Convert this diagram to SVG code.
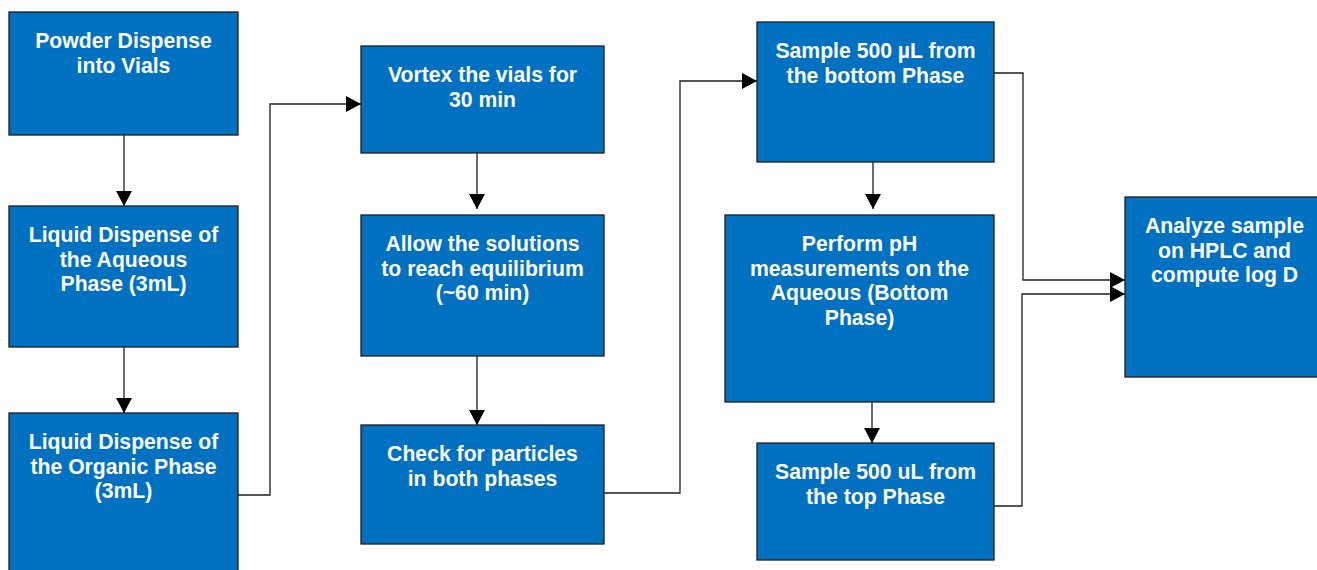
<svg xmlns="http://www.w3.org/2000/svg" width="1317" height="570" viewBox="0 0 1317 570">
<style>
.box{fill:#0070C0;stroke:#1e1e1e;stroke-width:1.3}
.t{font-family:"Liberation Sans",Arial,sans-serif;font-weight:bold;font-size:21.2px;fill:#ffffff;text-anchor:middle}
.c{fill:none;stroke:#1e1e1e;stroke-width:1.3}
</style>
<defs>
<marker id="ah" markerUnits="userSpaceOnUse" markerWidth="15" markerHeight="16" refX="15" refY="8" orient="auto">
<path d="M0,0 L15,8 L0,16 z" fill="#000"/>
</marker>
</defs>
<rect width="1317" height="570" fill="#ffffff"/>
<g id="connectors">
<path class="c" d="M124,135 V206" marker-end="url(#ah)"/>
<path class="c" d="M124,347 V413" marker-end="url(#ah)"/>
<path class="c" d="M238,495 H270 V104 H361" marker-end="url(#ah)"/>
<path class="c" d="M477,141 V209" marker-end="url(#ah)"/>
<path class="c" d="M477,356 V425" marker-end="url(#ah)"/>
<path class="c" d="M604,493 H680 V81 H757" marker-end="url(#ah)"/>
<path class="c" d="M873,162 V209" marker-end="url(#ah)"/>
<path class="c" d="M872,397 V443" marker-end="url(#ah)"/>
<path class="c" d="M994,73 H1023 V280 H1125" marker-end="url(#ah)"/>
<path class="c" d="M994,506 H1022 V294 H1125" marker-end="url(#ah)"/>
</g>
<g id="n1"><rect class="box" x="9" y="12" width="229" height="123"/>
<text class="t" x="123.5" y="48">Powder Dispense</text><text class="t" x="123.5" y="72.7">into Vials</text></g>
<g id="n2"><rect class="box" x="9" y="206" width="229" height="141"/>
<text class="t" x="123.5" y="242">Liquid Dispense of</text><text class="t" x="123.5" y="266.7">the Aqueous</text><text class="t" x="123.5" y="291.4">Phase (3mL)</text></g>
<g id="n3"><rect class="box" x="9" y="413" width="229" height="170"/>
<text class="t" x="123.5" y="449">Liquid Dispense of</text><text class="t" x="123.5" y="473.7">the Organic Phase</text><text class="t" x="123.5" y="498.4">(3mL)</text></g>
<g id="n4"><rect class="box" x="361" y="46" width="243" height="107"/>
<text class="t" x="482.5" y="82">Vortex the vials for</text><text class="t" x="482.5" y="106.7">30 min</text></g>
<g id="n5"><rect class="box" x="361" y="215" width="243" height="141"/>
<text class="t" x="482.5" y="251">Allow the solutions</text><text class="t" x="482.5" y="275.7">to reach equilibrium</text><text class="t" x="482.5" y="300.4">(~60 min)</text></g>
<g id="n6"><rect class="box" x="361" y="425" width="243" height="119"/>
<text class="t" x="482.5" y="461">Check for particles</text><text class="t" x="482.5" y="485.7">in both phases</text></g>
<g id="n7"><rect class="box" x="757" y="22" width="237" height="140"/>
<text class="t" x="875.5" y="58">Sample 500 µL from</text><text class="t" x="875.5" y="82.7">the bottom Phase</text></g>
<g id="n8"><rect class="box" x="725" y="215" width="269" height="187"/>
<text class="t" x="859.5" y="251">Perform pH</text><text class="t" x="859.5" y="275.7">measurements on the</text><text class="t" x="859.5" y="300.4">Aqueous (Bottom</text><text class="t" x="859.5" y="325.1">Phase)</text></g>
<g id="n9"><rect class="box" x="757" y="443" width="237" height="117"/>
<text class="t" x="875.5" y="479">Sample 500 uL from</text><text class="t" x="875.5" y="503.7">the top Phase</text></g>
<g id="n10"><rect class="box" x="1125" y="197" width="200" height="180"/>
<text class="t" x="1224.5" y="233">Analyze sample</text><text class="t" x="1224.5" y="257.7">on HPLC and</text><text class="t" x="1224.5" y="282.4">compute log D</text></g>
</svg>
